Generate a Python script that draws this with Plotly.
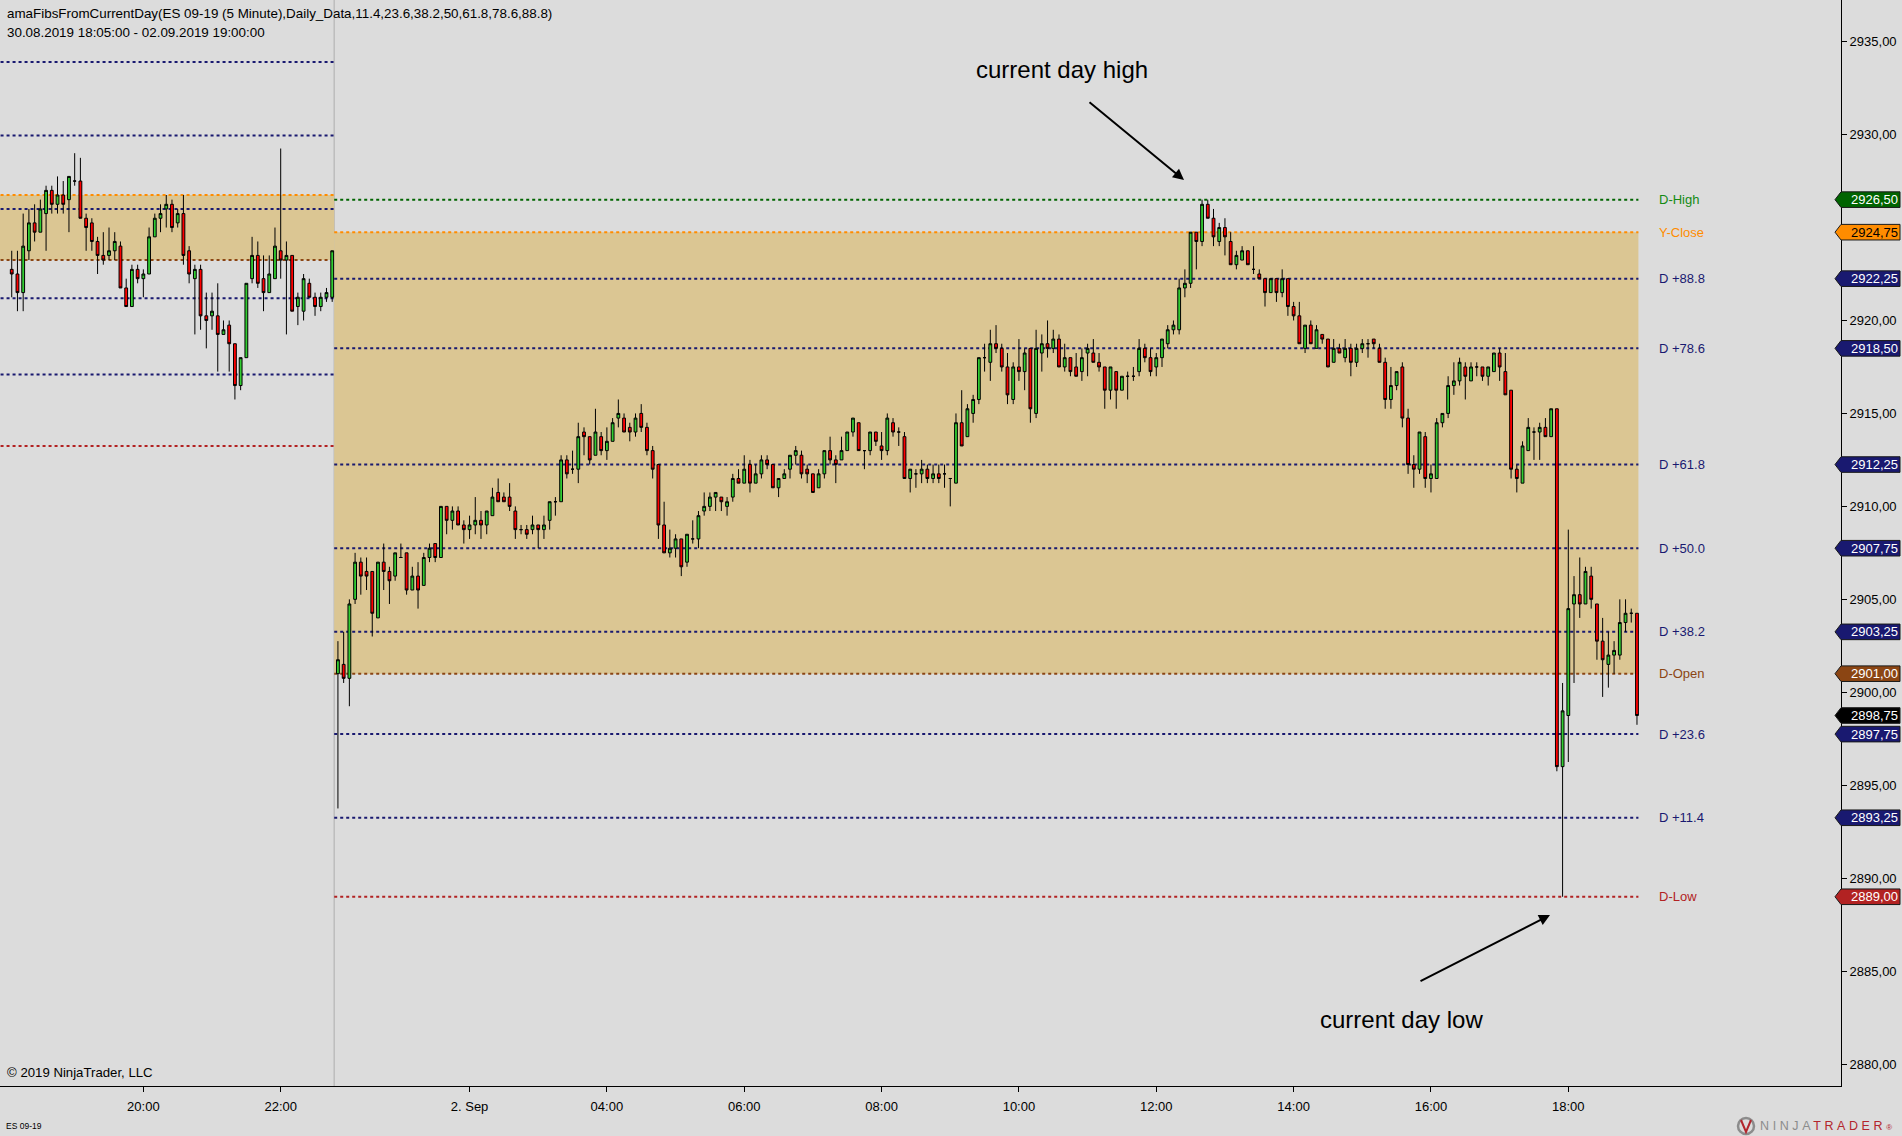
import plotly.graph_objects as go

FONT = "Arial, 'Liberation Sans', sans-serif"

# ---------------- data: previous session (30.08.2019, 5-minute bars from 18:05) ----------------
prev_open = [2922.75, 2922.5, 2921.5, 2923.75, 2925.25, 2924.75, 2925.75, 2927.0, 2926.25, 2926.75,
             2926.5, 2927.5, 2927.5, 2925.5, 2925.25, 2924.25, 2923.5, 2923.5, 2923.75, 2924.0,
             2921.75, 2920.75, 2922.75, 2922.25, 2922.5, 2924.5, 2925.5, 2926.0, 2926.25, 2925.25,
             2925.75, 2923.75, 2922.25, 2922.75, 2920.25, 2920.25, 2920.25, 2919.25, 2919.75, 2918.75,
             2916.5, 2918.0, 2922.25, 2923.5, 2922.25, 2921.5, 2922.25, 2923.75, 2923.25, 2923.5,
             2920.75, 2920.5, 2922.0, 2921.25, 2920.75, 2921.25, 2921.25]
prev_high = [2923.75, 2923.75, 2925.75, 2926.0, 2926.25, 2926.5, 2927.25, 2927.25, 2927.75, 2927.5,
             2927.75, 2929.0, 2928.75, 2925.75, 2925.5, 2924.5, 2924.75, 2925.0, 2924.75, 2924.25,
             2922.25, 2923.0, 2923.0, 2922.75, 2925.0, 2925.75, 2926.25, 2926.75, 2926.5, 2926.0,
             2926.75, 2924.0, 2923.0, 2923.0, 2921.5, 2921.5, 2922.0, 2920.0, 2920.0, 2918.75,
             2918.0, 2922.0, 2924.5, 2924.25, 2923.5, 2923.5, 2925.0, 2929.25, 2924.25, 2923.5,
             2921.5, 2922.5, 2922.25, 2921.5, 2921.5, 2921.75, 2923.75]
prev_low = [2921.25, 2920.5, 2920.5, 2923.25, 2924.25, 2924.75, 2923.75, 2925.75, 2925.75, 2925.75,
            2924.75, 2927.25, 2925.5, 2923.75, 2923.75, 2922.5, 2923.0, 2923.25, 2923.25, 2921.75,
            2920.75, 2920.75, 2922.0, 2921.25, 2922.5, 2924.5, 2924.75, 2925.0, 2924.75, 2925.0,
            2923.0, 2922.0, 2919.25, 2919.5, 2918.5, 2919.5, 2917.25, 2919.25, 2917.25, 2915.75,
            2916.25, 2918.0, 2922.0, 2921.75, 2920.5, 2921.5, 2922.25, 2922.25, 2919.25, 2920.5,
            2919.75, 2920.0, 2921.25, 2920.25, 2920.5, 2921.0, 2921.0]
prev_close = [2922.5, 2921.5, 2924.0, 2925.25, 2924.75, 2926.0, 2927.0, 2926.25, 2926.75, 2926.25,
              2927.75, 2927.5, 2925.5, 2925.0, 2924.25, 2923.5, 2923.25, 2923.75, 2924.25, 2921.75,
              2920.75, 2922.75, 2922.25, 2922.5, 2924.5, 2925.5, 2925.75, 2926.25, 2925.0, 2925.75,
              2923.5, 2922.5, 2922.75, 2920.25, 2920.0, 2920.5, 2919.25, 2919.5, 2918.75, 2916.5,
              2918.0, 2922.0, 2923.5, 2922.0, 2921.5, 2922.5, 2924.0, 2923.25, 2923.5, 2920.5,
              2921.25, 2922.25, 2921.25, 2920.75, 2921.25, 2921.5, 2923.75]

# ---------------- data: current session (02.09.2019, 5-minute bars from 00:05 to 19:00) ----------------
cur_open = [2901.0, 2901.5, 2900.75, 2905.0, 2907.0, 2906.5, 2906.5, 2904.0, 2907.0, 2906.5,
            2906.25, 2907.25, 2907.5, 2905.5, 2906.25, 2905.75, 2907.25, 2908.0, 2907.25, 2910.0,
            2909.25, 2909.75, 2909.0, 2908.75, 2909.0, 2909.25, 2909.0, 2909.5, 2910.75, 2910.5,
            2910.5, 2909.75, 2908.75, 2908.75, 2908.75, 2909.0, 2908.75, 2909.25, 2910.25, 2910.25,
            2912.5, 2912.0, 2912.0, 2914.0, 2913.75, 2912.75, 2913.75, 2913.0, 2913.5, 2914.75,
            2914.75, 2914.25, 2914.0, 2915.0, 2914.25, 2913.0, 2912.25, 2909.0, 2907.5, 2907.75,
            2908.25, 2907.0, 2908.25, 2908.25, 2909.75, 2910.0, 2910.5, 2910.5, 2910.0, 2910.5,
            2911.5, 2911.25, 2912.25, 2911.25, 2911.75, 2912.5, 2912.25, 2911.0, 2911.5, 2912.0,
            2912.75, 2912.75, 2912.0, 2911.75, 2911.0, 2911.75, 2913.0, 2912.5, 2912.5, 2913.0,
            2914.0, 2914.5, 2913.0, 2913.0, 2914.0, 2913.25, 2913.0, 2914.5, 2914.0, 2913.75,
            2911.5, 2911.75, 2911.75, 2912.0, 2911.5, 2911.75, 2911.75, 2911.5, 2911.25, 2914.5,
            2913.75, 2915.0, 2915.75, 2918.0, 2917.75, 2918.75, 2918.5, 2917.5, 2915.75, 2917.5,
            2917.25, 2918.5, 2915.0, 2918.25, 2918.75, 2918.5, 2919.0, 2917.5, 2918.0, 2917.5,
            2917.25, 2918.25, 2918.25, 2917.75, 2917.5, 2916.25, 2917.25, 2916.25, 2917.0, 2917.0,
            2917.25, 2918.5, 2918.0, 2917.5, 2918.0, 2918.75, 2919.5, 2919.5, 2921.75, 2922.0,
            2924.75, 2924.25, 2926.25, 2925.5, 2924.25, 2925.0, 2924.25, 2923.0, 2923.25, 2923.75,
            2922.75, 2922.5, 2922.25, 2921.5, 2922.25, 2921.5, 2922.25, 2920.75, 2920.25, 2918.5,
            2919.75, 2918.5, 2919.25, 2919.0, 2917.75, 2918.5, 2918.0, 2918.5, 2917.75, 2918.5,
            2918.75, 2919.0, 2918.5, 2917.75, 2915.75, 2916.5, 2917.5, 2914.75, 2912.25, 2912.0,
            2913.75, 2911.5, 2911.5, 2914.5, 2915.0, 2916.5, 2916.75, 2917.5, 2916.75, 2917.5,
            2917.5, 2917.0, 2917.25, 2918.25, 2917.25, 2916.25, 2912.0, 2911.25, 2913.0, 2914.0,
            2914.0, 2914.25, 2913.75, 2915.25, 2896.0, 2898.75, 2904.75, 2905.25, 2904.75, 2906.25,
            2904.75, 2902.75, 2901.5, 2902.0, 2902.0, 2903.75, 2904.25, 2904.25]
cur_high = [2902.75, 2903.25, 2905.0, 2907.5, 2907.25, 2907.25, 2906.5, 2907.0, 2908.0, 2906.75,
            2907.5, 2908.0, 2907.5, 2906.75, 2907.0, 2907.5, 2908.0, 2908.0, 2910.0, 2910.0,
            2910.0, 2910.0, 2909.25, 2909.5, 2910.5, 2909.75, 2909.75, 2911.0, 2911.5, 2910.75,
            2911.25, 2910.0, 2909.0, 2909.0, 2909.5, 2909.0, 2909.5, 2910.25, 2910.5, 2912.75,
            2912.75, 2913.0, 2914.5, 2914.25, 2913.75, 2915.25, 2914.0, 2914.25, 2914.75, 2915.75,
            2915.0, 2914.5, 2915.0, 2915.5, 2914.5, 2913.25, 2912.25, 2910.25, 2908.75, 2908.5,
            2908.25, 2908.5, 2909.25, 2909.75, 2910.75, 2910.75, 2910.75, 2910.5, 2910.5, 2911.75,
            2912.0, 2912.75, 2912.5, 2912.25, 2912.75, 2912.75, 2912.25, 2911.5, 2912.0, 2912.75,
            2913.25, 2913.0, 2912.25, 2911.75, 2912.0, 2913.0, 2913.75, 2912.75, 2913.75, 2914.0,
            2914.75, 2914.5, 2913.0, 2914.0, 2914.0, 2914.0, 2915.0, 2914.75, 2914.25, 2914.0,
            2912.0, 2912.0, 2912.5, 2912.25, 2912.25, 2912.25, 2912.25, 2911.5, 2915.0, 2916.25,
            2915.5, 2916.0, 2918.0, 2918.75, 2919.5, 2919.75, 2918.75, 2918.25, 2917.75, 2919.0,
            2918.5, 2918.5, 2919.5, 2919.25, 2920.0, 2919.5, 2919.25, 2918.75, 2918.0, 2918.25,
            2918.5, 2918.75, 2919.0, 2918.25, 2917.5, 2917.5, 2917.25, 2917.0, 2917.25, 2917.5,
            2919.0, 2918.75, 2918.5, 2918.25, 2919.0, 2919.75, 2920.0, 2922.25, 2922.75, 2924.75,
            2924.75, 2926.5, 2926.5, 2926.0, 2925.25, 2925.5, 2924.75, 2923.75, 2924.0, 2923.75,
            2924.0, 2922.75, 2922.25, 2922.25, 2922.25, 2922.75, 2922.25, 2921.0, 2921.0, 2919.75,
            2920.0, 2919.75, 2919.25, 2919.0, 2919.0, 2918.75, 2919.0, 2918.75, 2918.75, 2919.0,
            2919.0, 2919.0, 2918.75, 2918.0, 2917.5, 2917.25, 2917.75, 2915.25, 2912.75, 2914.0,
            2914.0, 2912.25, 2914.75, 2915.0, 2917.0, 2917.75, 2918.0, 2917.75, 2917.75, 2917.75,
            2917.5, 2917.5, 2918.25, 2918.5, 2918.25, 2916.25, 2912.25, 2913.5, 2914.75, 2914.25,
            2914.5, 2914.75, 2915.25, 2915.25, 2900.5, 2908.75, 2906.25, 2907.25, 2906.75, 2906.75,
            2904.75, 2904.0, 2903.25, 2902.75, 2905.0, 2905.0, 2904.5, 2904.25]
cur_low = [2893.75, 2900.5, 2899.25, 2904.75, 2905.25, 2905.5, 2903.0, 2904.0, 2905.5, 2904.75,
           2906.0, 2907.25, 2905.25, 2905.5, 2904.5, 2905.75, 2907.0, 2907.0, 2907.25, 2908.5,
           2908.75, 2909.0, 2908.0, 2908.25, 2908.5, 2908.25, 2908.5, 2909.5, 2910.25, 2910.25,
           2909.75, 2908.25, 2908.5, 2908.25, 2908.5, 2907.75, 2908.25, 2908.75, 2909.5, 2910.25,
           2911.5, 2911.75, 2911.25, 2912.75, 2912.25, 2912.75, 2912.75, 2912.5, 2913.5, 2914.25,
           2914.0, 2913.5, 2913.75, 2914.0, 2912.75, 2911.5, 2908.25, 2907.5, 2907.25, 2907.25,
           2906.25, 2906.75, 2908.0, 2907.75, 2909.5, 2909.75, 2909.75, 2909.75, 2909.5, 2910.25,
           2911.25, 2911.25, 2910.75, 2911.25, 2911.5, 2912.0, 2911.0, 2910.5, 2911.5, 2911.5,
           2912.25, 2911.5, 2911.25, 2910.75, 2911.0, 2911.5, 2912.25, 2911.25, 2912.5, 2913.0,
           2913.75, 2913.0, 2912.0, 2912.75, 2913.25, 2912.5, 2912.75, 2913.75, 2913.25, 2911.5,
           2910.75, 2911.0, 2911.25, 2911.25, 2911.25, 2911.25, 2911.0, 2910.0, 2911.25, 2913.25,
           2913.75, 2914.5, 2915.5, 2917.25, 2916.75, 2918.25, 2917.25, 2915.5, 2915.5, 2916.75,
           2916.25, 2914.5, 2914.75, 2917.25, 2918.0, 2918.25, 2917.5, 2917.25, 2917.0, 2917.0,
           2916.75, 2917.0, 2917.75, 2917.25, 2915.25, 2915.75, 2915.25, 2916.25, 2915.75, 2916.75,
           2917.0, 2917.75, 2917.0, 2917.0, 2917.5, 2918.5, 2919.25, 2919.25, 2921.25, 2921.75,
           2922.75, 2924.0, 2925.5, 2924.0, 2924.0, 2923.5, 2923.0, 2922.75, 2923.25, 2923.0,
           2922.5, 2922.25, 2920.75, 2921.5, 2921.0, 2921.25, 2920.25, 2920.0, 2918.75, 2918.25,
           2918.75, 2918.5, 2918.75, 2917.5, 2917.75, 2918.25, 2917.75, 2917.0, 2917.5, 2918.25,
           2918.0, 2918.5, 2917.75, 2915.25, 2915.25, 2916.25, 2914.25, 2911.75, 2911.0, 2911.75,
           2911.0, 2910.75, 2911.5, 2914.25, 2914.75, 2916.0, 2916.5, 2915.75, 2916.75, 2917.0,
           2916.75, 2916.5, 2917.25, 2916.75, 2916.0, 2911.5, 2910.75, 2911.25, 2913.0, 2912.5,
           2912.5, 2913.75, 2913.75, 2895.75, 2889.0, 2896.25, 2900.5, 2904.0, 2904.75, 2904.5,
           2901.75, 2899.75, 2900.25, 2901.0, 2901.75, 2903.25, 2903.75, 2898.25]
cur_close = [2901.75, 2900.75, 2904.75, 2907.0, 2906.25, 2906.25, 2904.25, 2907.0, 2906.5, 2906.0,
             2907.5, 2907.25, 2905.5, 2906.25, 2905.5, 2907.25, 2907.75, 2907.25, 2910.0, 2909.25,
             2909.75, 2909.0, 2908.75, 2909.0, 2909.25, 2909.0, 2909.75, 2910.5, 2910.25, 2910.25,
             2910.0, 2908.75, 2908.75, 2908.5, 2909.0, 2908.75, 2909.0, 2910.25, 2910.25, 2912.5,
             2911.75, 2912.0, 2913.75, 2913.75, 2912.5, 2914.0, 2913.0, 2913.5, 2914.5, 2915.0,
             2914.0, 2914.0, 2914.75, 2914.25, 2913.0, 2912.0, 2909.0, 2907.5, 2907.75, 2908.25,
             2906.75, 2908.5, 2908.25, 2909.5, 2910.0, 2910.5, 2910.75, 2910.25, 2910.25, 2911.5,
             2911.25, 2912.0, 2911.25, 2911.75, 2912.5, 2912.25, 2911.0, 2911.5, 2911.75, 2912.75,
             2913.0, 2911.75, 2911.75, 2910.75, 2911.75, 2913.0, 2912.5, 2912.25, 2913.0, 2914.0,
             2914.75, 2913.0, 2913.0, 2914.0, 2913.5, 2913.0, 2914.75, 2914.0, 2914.0, 2911.5,
             2912.0, 2911.75, 2912.0, 2911.5, 2911.75, 2911.5, 2911.75, 2911.5, 2914.5, 2913.25,
             2915.25, 2915.75, 2918.0, 2918.0, 2918.75, 2918.5, 2917.5, 2916.0, 2917.5, 2917.25,
             2918.25, 2915.25, 2918.5, 2918.75, 2918.5, 2919.0, 2917.5, 2918.0, 2917.25, 2917.0,
             2918.0, 2918.5, 2917.75, 2917.5, 2916.25, 2917.5, 2916.25, 2917.0, 2917.0, 2917.0,
             2918.5, 2918.0, 2917.25, 2918.0, 2919.0, 2919.5, 2919.75, 2921.75, 2922.0, 2924.75,
             2924.25, 2926.25, 2925.5, 2924.5, 2925.0, 2924.5, 2923.0, 2923.5, 2923.75, 2923.0,
             2922.75, 2922.25, 2921.5, 2922.25, 2921.5, 2922.25, 2920.75, 2920.25, 2918.75, 2919.75,
             2918.75, 2919.5, 2919.0, 2917.5, 2918.5, 2918.25, 2918.5, 2917.75, 2918.5, 2918.75,
             2918.75, 2918.75, 2917.75, 2915.75, 2916.5, 2917.25, 2914.75, 2912.25, 2912.0, 2914.0,
             2911.5, 2911.75, 2914.5, 2915.0, 2916.5, 2916.75, 2917.75, 2917.0, 2917.5, 2917.5,
             2917.0, 2917.5, 2918.25, 2917.5, 2916.0, 2912.0, 2911.5, 2913.25, 2914.25, 2914.0,
             2914.25, 2913.75, 2915.25, 2896.0, 2899.0, 2904.5, 2905.25, 2904.75, 2906.5, 2905.0,
             2902.75, 2901.75, 2902.0, 2902.25, 2903.75, 2904.25, 2904.25, 2898.75]

# current-day fib levels (drawn from the separator to the last bar, labelled on the right)
level_names = ["D-High", "Y-Close", "D +88.8", "D +78.6", "D +61.8", "D +50.0",
               "D +38.2", "D-Open", "D +23.6", "D +11.4", "D-Low"]
level_values = [2926.5, 2924.75, 2922.25, 2918.5, 2912.25, 2907.75,
                2903.25, 2901.0, 2897.75, 2893.25, 2889.0]
level_colors = ["#006400", "#ff8c00", "#191970", "#191970", "#191970", "#191970",
                "#191970", "#8b4513", "#191970", "#191970", "#b22222"]
level_label_colors = ["#138a13", "#ff8c00", "#191970", "#191970", "#191970", "#191970",
                      "#191970", "#8b4513", "#191970", "#191970", "#b22222"]
level_tag_text = ["white", "black", "white", "white", "white", "white",
                  "white", "white", "white", "white", "white"]

# previous-day levels (left of the session break)
prev_level_values = [2933.9, 2929.95, 2926.75, 2926.0, 2923.25, 2921.2, 2917.1, 2913.25]
prev_level_colors = ["#191970", "#191970", "#ff8c00", "#191970", "#8b4513", "#191970", "#191970", "#b22222"]
prev_zone = [2923.25, 2926.75]      # previous D-Open .. Y-Close
cur_zone = [2901.0, 2924.75]        # D-Open .. Y-Close

y_ticks = [2880, 2885, 2890, 2895, 2900, 2905, 2910, 2915, 2920, 2925, 2930, 2935]
y_ticks_hidden = [2925]             # covered by the Y-Close price tag in the reference
x_tick_labels = ["20:00", "22:00", "2. Sep", "04:00", "06:00", "08:00",
                 "10:00", "12:00", "14:00", "16:00", "18:00"]
x_tick_session = ["prev", "prev", "cur", "cur", "cur", "cur", "cur", "cur", "cur", "cur", "cur"]
x_tick_time = ["20:00", "22:00", "02:00", "04:00", "06:00", "08:00",
               "10:00", "12:00", "14:00", "16:00", "18:00"]

for name, arr, n in [("prev_high", prev_high, len(prev_open)), ("prev_low", prev_low, len(prev_open)),
                     ("prev_close", prev_close, len(prev_open)), ("cur_high", cur_high, len(cur_open)),
                     ("cur_low", cur_low, len(cur_open)), ("cur_close", cur_close, len(cur_open))]:
    if len(arr) != n:
        raise SystemExit(f"{name}: {len(arr)} != {n}")


def bar_times(start, n):
    h, m = map(int, start.split(":"))
    t = h * 60 + m
    out = []
    for _ in range(n):
        out.append(f"{(t // 60) % 24:02d}:{t % 60:02d}")
        t += 5
    return out


prev_times = bar_times("18:05", len(prev_open))
cur_times = bar_times("00:05", len(cur_open))
n_prev = len(prev_open)
x_prev = list(range(n_prev))
x_cur = list(range(n_prev, n_prev + len(cur_open)))
x_all = x_prev + x_cur

tick_pos = []
for s, t in zip(x_tick_session, x_tick_time):
    tick_pos.append(prev_times.index(t) if s == "prev" else n_prev + cur_times.index(t))

sep_x = n_prev - 1 + 0.35
end_x = x_cur[-1] + 0.25

fig = go.Figure()
fig.add_trace(go.Candlestick(
    x=x_all,
    open=prev_open + cur_open,
    high=prev_high + cur_high,
    low=prev_low + cur_low,
    close=prev_close + cur_close,
    increasing=dict(fillcolor="rgb(50,205,50)", line=dict(color="black", width=1)),
    decreasing=dict(fillcolor="rgb(255,0,0)", line=dict(color="black", width=1)),
    whiskerwidth=0,
    hoverinfo="skip",
    showlegend=False,
))

TAN = "rgb(219,198,147)"
shapes = []
# shaded zones
shapes.append(dict(type="rect", xref="x", yref="y", x0=-3, x1=sep_x, y0=prev_zone[0], y1=prev_zone[1],
                   fillcolor=TAN, line=dict(width=0), layer="below"))
shapes.append(dict(type="rect", xref="x", yref="y", x0=sep_x, x1=end_x, y0=cur_zone[0], y1=cur_zone[1],
                   fillcolor=TAN, line=dict(width=0), layer="below"))
# previous-day level lines
for v, c in zip(prev_level_values, prev_level_colors):
    shapes.append(dict(type="line", xref="x", yref="y", x0=-3, x1=sep_x, y0=v, y1=v,
                       line=dict(color=c, width=2, dash="dot"), layer="below"))
# current-day level lines
for v, c in zip(level_values, level_colors):
    shapes.append(dict(type="line", xref="x", yref="y", x0=sep_x, x1=end_x, y0=v, y1=v,
                       line=dict(color=c, width=2, dash="dot"), layer="below"))
# session break
shapes.append(dict(type="line", xref="x", yref="paper", x0=sep_x, x1=sep_x, y0=0, y1=1,
                   line=dict(color="#bdbdbd", width=1.5), layer="below"))

annotations = []
# header
annotations.append(dict(xref="paper", yref="paper", x=5 / 1841, y=1 - 13 / 1086, xanchor="left", yanchor="middle",
                        text="amaFibsFromCurrentDay(ES 09-19 (5 Minute),Daily_Data,11.4,23.6,38.2,50,61.8,78.6,88.8)",
                        showarrow=False, font=dict(family=FONT, size=13.4, color="black")))
annotations.append(dict(xref="paper", yref="paper", x=5 / 1841, y=1 - 33 / 1086, xanchor="left", yanchor="middle",
                        text="30.08.2019 18:05:00 - 02.09.2019 19:00:00",
                        showarrow=False, font=dict(family=FONT, size=13.4, color="black")))
annotations.append(dict(xref="paper", yref="paper", x=5 / 1841, y=1 - 1072 / 1086, xanchor="left", yanchor="middle",
                        text="© 2019 NinjaTrader, LLC", showarrow=False,
                        font=dict(family=FONT, size=13.2, color="black")))
annotations.append(dict(xref="paper", yref="paper", x=4 / 1841, y=(1086 - 1126) / 1086, xanchor="left",
                        yanchor="middle", text="ES 09-19", showarrow=False,
                        font=dict(family=FONT, size=8.5, color="black")))
annotations.append(dict(xref="paper", yref="paper", x=1758 / 1841, y=(1086 - 1126) / 1086, xanchor="left",
                        yanchor="middle", showarrow=False,
                        text='<span style="letter-spacing:3.6px"><span style="color:#8c8c8c">NINJA</span>'
                             '<span style="color:#b3262d">TRADER</span></span><span style="color:#b3262d;font-size:8px">®</span>',
                        font=dict(family=FONT, size=12.5)))
# level labels
for name, v, c in zip(level_names, level_values, level_label_colors):
    annotations.append(dict(xref="paper", yref="y", x=1657 / 1841, y=v, xanchor="left", yanchor="middle",
                            text=name, showarrow=False, font=dict(family=FONT, size=13, color=c)))


def fmt(v):
    return f"{v:.2f}".replace(".", ",")


# price tags on the axis (pentagon with a thin dark outline, value text on top)
tags = list(zip(level_values, level_colors, level_tag_text))
tags.append((cur_close[-1], "#000000", "white"))
for v, c, tc in tags:
    shapes.append(dict(type="path", xref="paper", yref="y", xsizemode="pixel", ysizemode="pixel",
                       xanchor=1.0, yanchor=v, path="M -6,0 L 0,7.8 L 59,7.8 L 59,-7.8 L 0,-7.8 Z",
                       fillcolor=c, line=dict(color="#1a1a1a", width=1), layer="above"))
    annotations.append(dict(xref="paper", yref="y", x=1.0, y=v, xanchor="center", yanchor="middle",
                            xshift=33, text=fmt(v), showarrow=False,
                            font=dict(family=FONT, size=13, color=tc)))

# call-out texts and arrows
annotations.append(dict(xref="paper", yref="paper", x=1062 / 1841, y=1 - 70 / 1086, xanchor="center",
                        yanchor="middle", text="current day high", showarrow=False,
                        font=dict(family=FONT, size=24, color="black")))
annotations.append(dict(xref="paper", yref="paper", x=1401 / 1841, y=1 - 1019 / 1086, xanchor="center",
                        yanchor="middle", text="current day low", showarrow=False,
                        font=dict(family=FONT, size=24, color="black")))
annotations.append(dict(xref="paper", yref="paper", x=1184 / 1841, y=1 - 180 / 1086, text="",
                        showarrow=True, arrowhead=2, arrowsize=1.1, arrowwidth=2, arrowcolor="black",
                        ax=-96, ay=-79))
annotations.append(dict(xref="paper", yref="paper", x=1550 / 1841, y=1 - 915 / 1086, text="",
                        showarrow=True, arrowhead=2, arrowsize=1.1, arrowwidth=2, arrowcolor="black",
                        ax=-131, ay=67))

# logo icon
shapes.append(dict(type="circle", xref="paper", yref="paper", x0=1738 / 1841, x1=1754 / 1841,
                   y0=(1086 - 1134) / 1086, y1=(1086 - 1118) / 1086,
                   line=dict(color="#8c8c8c", width=2.5), fillcolor="rgba(0,0,0,0)"))
shapes.append(dict(type="path", xref="paper", yref="paper",
                   path=f"M {1741/1841},{(1086-1120)/1086} L {1746/1841},{(1086-1132)/1086} L {1751/1841},{(1086-1120)/1086}",
                   line=dict(color="#b3262d", width=2)))

fig.update_layout(
    width=1902, height=1136,
    margin=dict(l=0, r=61, t=0, b=50),
    paper_bgcolor="#dcdcdc", plot_bgcolor="#dcdcdc",
    showlegend=False, hovermode=False, dragmode=False,
    boxgap=0.3,
    shapes=shapes, annotations=annotations,
    xaxis=dict(range=[-2.05, 319.65], rangeslider=dict(visible=False), showgrid=False, zeroline=False,
               tickmode="array", tickvals=tick_pos, ticktext=x_tick_labels,
               ticks="outside", ticklen=5, tickcolor="black", tickwidth=1,
               showline=True, linecolor="black", linewidth=1, ticklabelstandoff=3,
               tickfont=dict(family=FONT, size=13, color="black")),
    yaxis=dict(range=[2878.82, 2937.24], side="right", showgrid=False, zeroline=False,
               tickmode="array", tickvals=y_ticks,
               ticktext=["" if v in y_ticks_hidden else fmt(v) for v in y_ticks],
               ticks="outside", ticklen=5, tickcolor="black", tickwidth=1,
               showline=True, linecolor="black", linewidth=1,
               tickfont=dict(family=FONT, size=13, color="black")),
)

fig.write_html("out.html", include_plotlyjs=True,
               config={"displayModeBar": False, "staticPlot": True},
               post_script="document.body.style.margin='0px';document.body.style.padding='0px';"
                           "document.body.style.overflow='hidden';"
                           "document.body.style.background='#dcdcdc';")
